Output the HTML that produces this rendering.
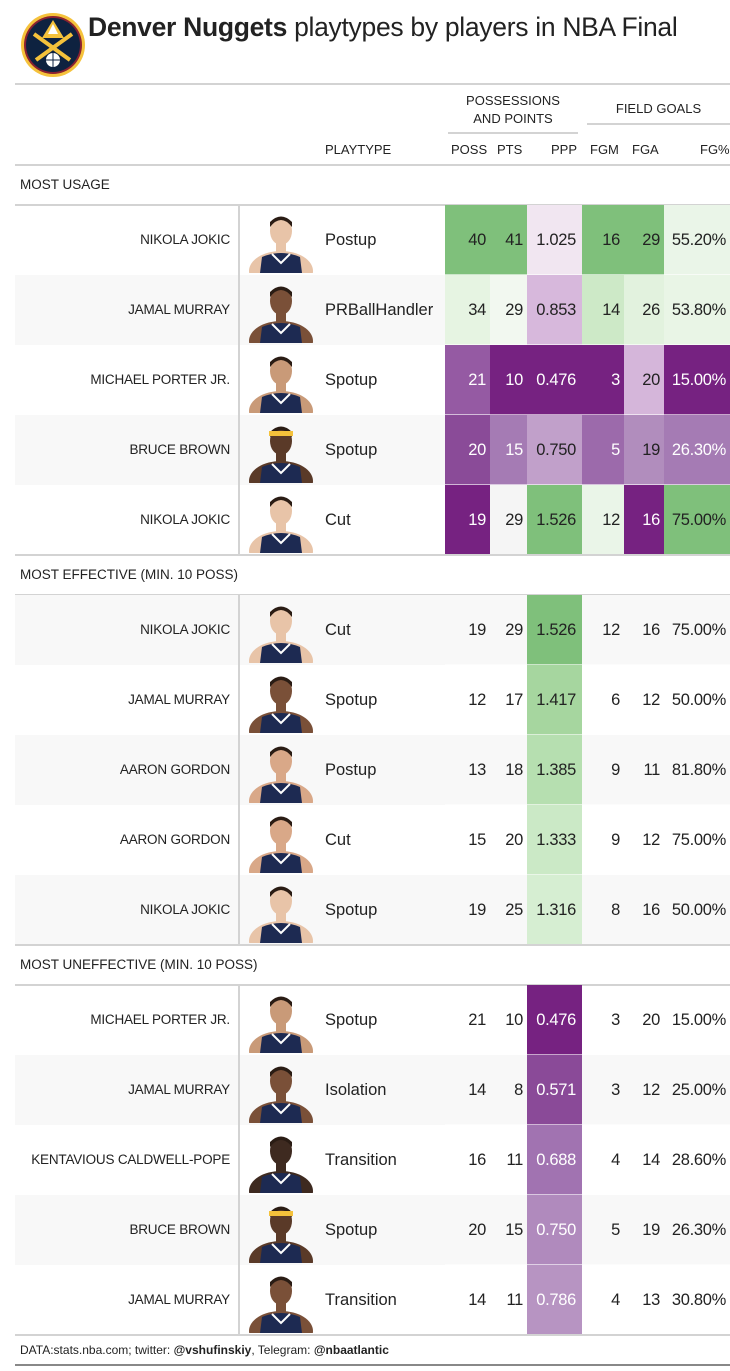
<!DOCTYPE html>
<html><head><meta charset="utf-8">
<style>
body{margin:0;width:730px;height:1371px;background:#fff;font-family:"Liberation Sans",Arial,sans-serif;color:#222;position:relative;overflow:hidden}
.a{position:absolute}
.line{position:absolute;background:#d3d3d3}
.cell{position:absolute;box-sizing:border-box;text-align:right;padding-right:4px;font-size:16.5px;line-height:70px;height:70px;letter-spacing:-0.3px}
.name{position:absolute;text-align:right;font-size:13.5px;width:215px;left:15px;line-height:70px;height:70px;letter-spacing:-0.2px}
.pt{position:absolute;left:325px;font-size:16.5px;line-height:70px}
.hd{position:absolute;font-size:13px;text-align:center}
.sec{position:absolute;left:20px;font-size:13.5px;line-height:40px}
</style></head><body>
<svg class="a" style="left:20px;top:12px" width="66" height="66">
<circle cx="33" cy="33" r="32" fill="#f5c23b"/><circle cx="33" cy="33" r="29" fill="#8b2131"/><circle cx="33" cy="33" r="27" fill="#0e2240"/>
<path d="M33 8 L44 26 L22 26 Z" fill="#f5c23b"/><path d="M33 12 L38 22 L28 22Z" fill="#fff"/>
<path d="M14 22 L50 48 M52 22 L16 48" stroke="#f5c23b" stroke-width="4"/>
<circle cx="33" cy="48" r="7" fill="#fff"/><path d="M26 48 H40 M33 41 V55" stroke="#0e2240" stroke-width="1"/>
</svg>
<div class="a" style="left:88px;top:12px;font-size:26.5px;letter-spacing:-0.3px"><b>Denver Nuggets</b> playtypes by players in NBA Final</div>
<div class="line" style="left:15px;top:83px;width:715px;height:2px"></div>
<div class="hd" style="left:448px;top:92px;width:130px;line-height:18px">POSSESSIONS<br>AND POINTS</div>
<div class="line" style="left:448px;top:132px;width:130px;height:2px"></div>
<div class="hd" style="left:587px;top:101px;width:143px">FIELD GOALS</div>
<div class="line" style="left:587px;top:123px;width:143px;height:2px"></div>
<div class="hd" style="left:325px;top:142px">PLAYTYPE</div>
<div class="hd" style="left:451px;top:142px">POSS</div>
<div class="hd" style="left:497px;top:142px">PTS</div>
<div class="hd" style="left:551px;top:142px">PPP</div>
<div class="hd" style="left:590px;top:142px">FGM</div>
<div class="hd" style="left:632px;top:142px">FGA</div>
<div class="hd" style="left:700px;top:142px">FG%</div>
<div class="line" style="left:15px;top:164px;width:715px;height:2px"></div>
<div id="t"></div>
<div class="a" style="left:20px;top:1343px;font-size:12px">DATA:stats.nba.com; twitter: <b>@vshufinskiy</b>, Telegram: <b>@nbaatlantic</b></div>
<div class="a" style="left:15px;top:1364px;width:715px;height:2px;background:#888"></div>
<script>
const sections=["MOST USAGE","MOST EFFECTIVE (MIN. 10 POSS)","MOST UNEFFECTIVE (MIN. 10 POSS)"];
const players=["NIKOLA JOKIC","JAMAL MURRAY","MICHAEL PORTER JR.","BRUCE BROWN","NIKOLA JOKIC","NIKOLA JOKIC","JAMAL MURRAY","AARON GORDON","AARON GORDON","NIKOLA JOKIC","MICHAEL PORTER JR.","JAMAL MURRAY","KENTAVIOUS CALDWELL-POPE","BRUCE BROWN","JAMAL MURRAY"];
const playtypes=["Postup","PRBallHandler","Spotup","Spotup","Cut","Cut","Spotup","Postup","Cut","Spotup","Spotup","Isolation","Transition","Spotup","Transition"];
const poss=[40,34,21,20,19,19,12,13,15,19,21,14,16,20,14];
const pts=[41,29,10,15,29,29,17,18,20,25,10,8,11,15,11];
const ppp=["1.025","0.853","0.476","0.750","1.526","1.526","1.417","1.385","1.333","1.316","0.476","0.571","0.688","0.750","0.786"];
const fgm=[16,14,3,5,12,12,6,9,9,8,3,3,4,5,4];
const fga=[29,26,20,19,16,16,12,11,12,16,20,12,14,19,13];
const fgp=["55.20%","53.80%","15.00%","26.30%","75.00%","75.00%","50.00%","81.80%","75.00%","50.00%","15.00%","25.00%","28.60%","26.30%","30.80%"];
const skin=["#e8c4a8","#7a5038","#c99a78","#5a3a28","#e8c4a8","#e8c4a8","#7a5038","#d9a888","#d9a888","#e8c4a8","#c99a78","#7a5038","#3e2a20","#5a3a28","#7a5038"];
const C=[
["#7fc07b","#7fc07b","#f1e6f1","#7fc07b","#7fc07b","#eaf5e8"],
["#e6f4e2","#f2f8f0","#d7b8dc","#cde9c7","#e2f2de","#e9f5e6"],
["#955aa3","#762281","#762281","#762281","#d5b6da","#762281"],
["#8a4b98","#a57bb4","#c1a0ca","#9c6aab","#b18dbd","#a57bb4"],
["#762281","#f5f5f5","#7fc07b","#eaf5e8","#762281","#7fc07b"]];
const dark=[[0,0,0,0,0,0],[0,0,0,0,0,0],[1,1,1,1,0,1],[1,1,0,1,0,1],[1,0,0,0,1,0]];
const pppCol=["#7fc07b","#a6d69f","#b6dfb0","#cbe9c6","#d6eed2","#762281","#8a4a98","#a173b1","#b08abd","#b794c2"];
const cols=[[445,45],[490,37],[527,55],[582,42],[624,40],[664,66]];
const t=document.getElementById('t');
function add(cls,style,html,name){const d=document.createElement('div');d.className=cls;d.style.cssText=style;d.innerHTML=html;


t.appendChild(d);return d;}
let y=165,i=0;
for(let s=0;s<3;s++){
 add('sec','top:'+y+'px',sections[s],'section-label');
 y+=40;
 add('line','left:15px;top:'+(y-1)+'px;width:715px;height:2px','','section-line');
 const y0=y;
 for(let r=0;r<5;r++,i++){
  if(i%2==1) add('a','left:15px;top:'+y+'px;width:715px;height:70px;background:#f8f8f8','','row-stripe');
  add('name','top:'+y+'px',players[i],'player-name');
  const sv='<svg width="66" height="66"><ellipse cx="33" cy="64" rx="32" ry="20" fill="'+skin[i]+'"/><path d="M12 66 L14 50 Q33 42 52 50 L54 66Z" fill="#1d2a52"/><path d="M24 47 L33 56 L42 47" stroke="#fff" stroke-width="2" fill="none"/><rect x="28" y="34" width="10" height="12" fill="'+skin[i]+'"/><ellipse cx="33" cy="24" rx="11" ry="14" fill="'+skin[i]+'"/><path d="M22 20 Q33 6 44 20 L44 15 Q33 4 22 15Z" fill="#2a1c14"/>'+(i==3||i==13?'<rect x="21" y="14" width="24" height="5" fill="#f5c23b"/>':'')+'</svg>';
  add('a','left:248px;top:'+(y+2)+'px;width:66px;height:66px',sv,'player-photo');
  add('pt','top:'+y+'px',playtypes[i],'playtype');
  const vals=[poss[i],pts[i],ppp[i],fgm[i],fga[i],fgp[i]];
  const nm=['poss','pts','ppp','fgm','fga','fg-pct'];
  for(let c=0;c<6;c++){
   let bg='transparent',col='#222';
   if(s==0){bg=C[r][c];if(dark[r][c])col='#fff';}
   else if(c==2){bg=pppCol[(s-1)*5+r];if(s==2)col='#fff';}
   add('cell','left:'+cols[c][0]+'px;top:'+y+'px;width:'+cols[c][1]+'px;background:'+bg+';color:'+col+(c==2?';padding-right:6px':''),vals[c],'cell-'+nm[c]);
  }
  add('line','left:'+cols[0][0]+'px;top:'+(y+69)+'px;width:285px;height:1px;background:rgba(255,255,255,0.6)','','row-sep');
  y+=70;
 }
 add('line','left:238px;top:'+y0+'px;width:2px;height:'+(y-y0)+'px','','stub-border');
 add('line','left:15px;top:'+(y-1)+'px;width:715px;height:2px','','section-end-line');
}
</script>
</body></html>
